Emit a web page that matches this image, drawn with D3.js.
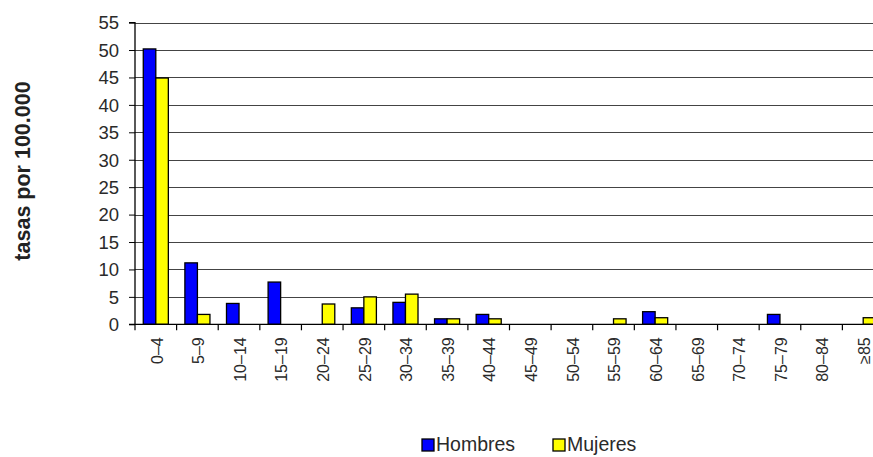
<!DOCTYPE html>
<html><head><meta charset="utf-8">
<script src="https://cdn.jsdelivr.net/npm/d3@7"></script>
<style>body{margin:0;background:#fff;overflow:hidden}svg{display:block}</style>
</head><body><svg id="c" width="873" height="457"></svg>
<script>
const categories = ["0–4","5–9","10–14","15–19","20–24","25–29","30–34","35–39","40–44","45–49","50–54","55–59","60–64","65–69","70–74","75–79","80–84","≥85"];
const hombres = [50.2,11.2,3.8,7.7,0,3.0,4.0,1.0,1.8,0,0,0,2.3,0,0,1.8,0,0];
const mujeres = [44.9,1.8,0,0,3.7,5.0,5.5,1.0,1.0,0,0,1.0,1.2,0,0,0,0,1.2];
const seriesNames = ["Hombres","Mujeres"];
const seriesColors = ["#0000ff","#ffff00"];
const yTicks = [0,5,10,15,20,25,30,35,40,45,50,55];

const FONT = "Liberation Sans, Arial, sans-serif";
const svg = d3.select("#c");
const m = {left:135, top:22.6, bottom:324.3, right:884};
const x = d3.scaleBand().domain(categories).range([m.left, m.right]).padding(0);
const x1 = d3.scaleBand().domain(seriesNames).range([0, x.bandwidth()]).paddingOuter(0.66).paddingInner(0);
const y = d3.scaleLinear().domain([0,55]).range([m.bottom, m.top]);

// gridlines
svg.append("g").selectAll("line").data(yTicks.filter(d=>d>0)).join("line")
  .attr("x1", m.left).attr("x2", m.right)
  .attr("y1", d=>Math.round(y(d))+0.5).attr("y2", d=>Math.round(y(d))+0.5)
  .attr("stroke","#444").attr("stroke-width",1.2);

// bars
const data = categories.map((c,i)=>({c, vals:[hombres[i], mujeres[i]]}));
const g = svg.append("g").selectAll("g").data(data).join("g")
  .attr("transform", d=>`translate(${x(d.c)},0)`);
g.selectAll("rect").data(d=>d.vals.map((v,j)=>({v, s:seriesNames[j], col:seriesColors[j]})).filter(e=>e.v>0))
  .join("rect")
  .attr("x", e=>x1(e.s)).attr("width", x1.bandwidth())
  .attr("y", e=>y(e.v)).attr("height", e=>y(0)-y(e.v))
  .attr("fill", e=>e.col).attr("stroke","#000").attr("stroke-width",1.3);

// y axis
const yAxis = d3.axisLeft(y).tickValues(yTicks).tickSize(6).tickPadding(10).tickFormat(d3.format("d"));
const ya = svg.append("g").attr("transform",`translate(${m.left},0)`).call(yAxis);
ya.select(".domain").attr("stroke","#000").attr("stroke-width",1.3).attr("d",`M-6,${m.top}H0V${m.bottom}H-6`);
ya.selectAll(".tick line").attr("stroke","#000");
ya.selectAll("text").attr("font-family",FONT).attr("font-size","18.5px").attr("fill","#2a2a2a").attr("dy","0.34em");

// x axis
const xAxis = d3.axisBottom(x).tickSize(0).tickFormat(d=>d);
const xa = svg.append("g").attr("transform",`translate(0,${m.bottom})`).call(xAxis);
xa.select(".domain").attr("stroke","#000").attr("stroke-width",1.3).attr("d",`M${m.left},0H${m.right}`);
xa.selectAll(".tick text")
  .attr("font-family",FONT).attr("font-size","16px").attr("fill","#2a2a2a")
  .attr("transform","rotate(-90)").attr("text-anchor","end").attr("dy","0.36em").attr("x",-13).attr("y",1);
// boundary tick marks
svg.append("g").selectAll("line").data(categories.concat(["_end"])).join("line")
  .attr("x1", (d,i)=>m.left + i*x.step()).attr("x2", (d,i)=>m.left + i*x.step())
  .attr("y1", m.bottom).attr("y2", m.bottom+6).attr("stroke","#000").attr("stroke-width",1.2);

// y title
svg.append("text").attr("transform","translate(30,171) rotate(-90)")
  .attr("text-anchor","middle").attr("font-family",FONT)
  .attr("font-weight","bold").attr("font-size","21.5px").attr("fill","#222").text("tasas por 100.000");

// legend
const legendX = [422, 553];
const lg = svg.append("g").selectAll("g").data(seriesNames).join("g")
  .attr("transform",(d,i)=>`translate(${legendX[i]},451)`);
lg.append("rect").attr("x",0).attr("y",-12).attr("width",12).attr("height",12)
  .attr("fill",(d,i)=>seriesColors[i]).attr("stroke","#000").attr("stroke-width",1.3);
lg.append("text").attr("x",14).attr("y",0).attr("font-family",FONT)
  .attr("font-size","19.5px").attr("fill","#2a2a2a").text(d=>d);
</script></body></html>
